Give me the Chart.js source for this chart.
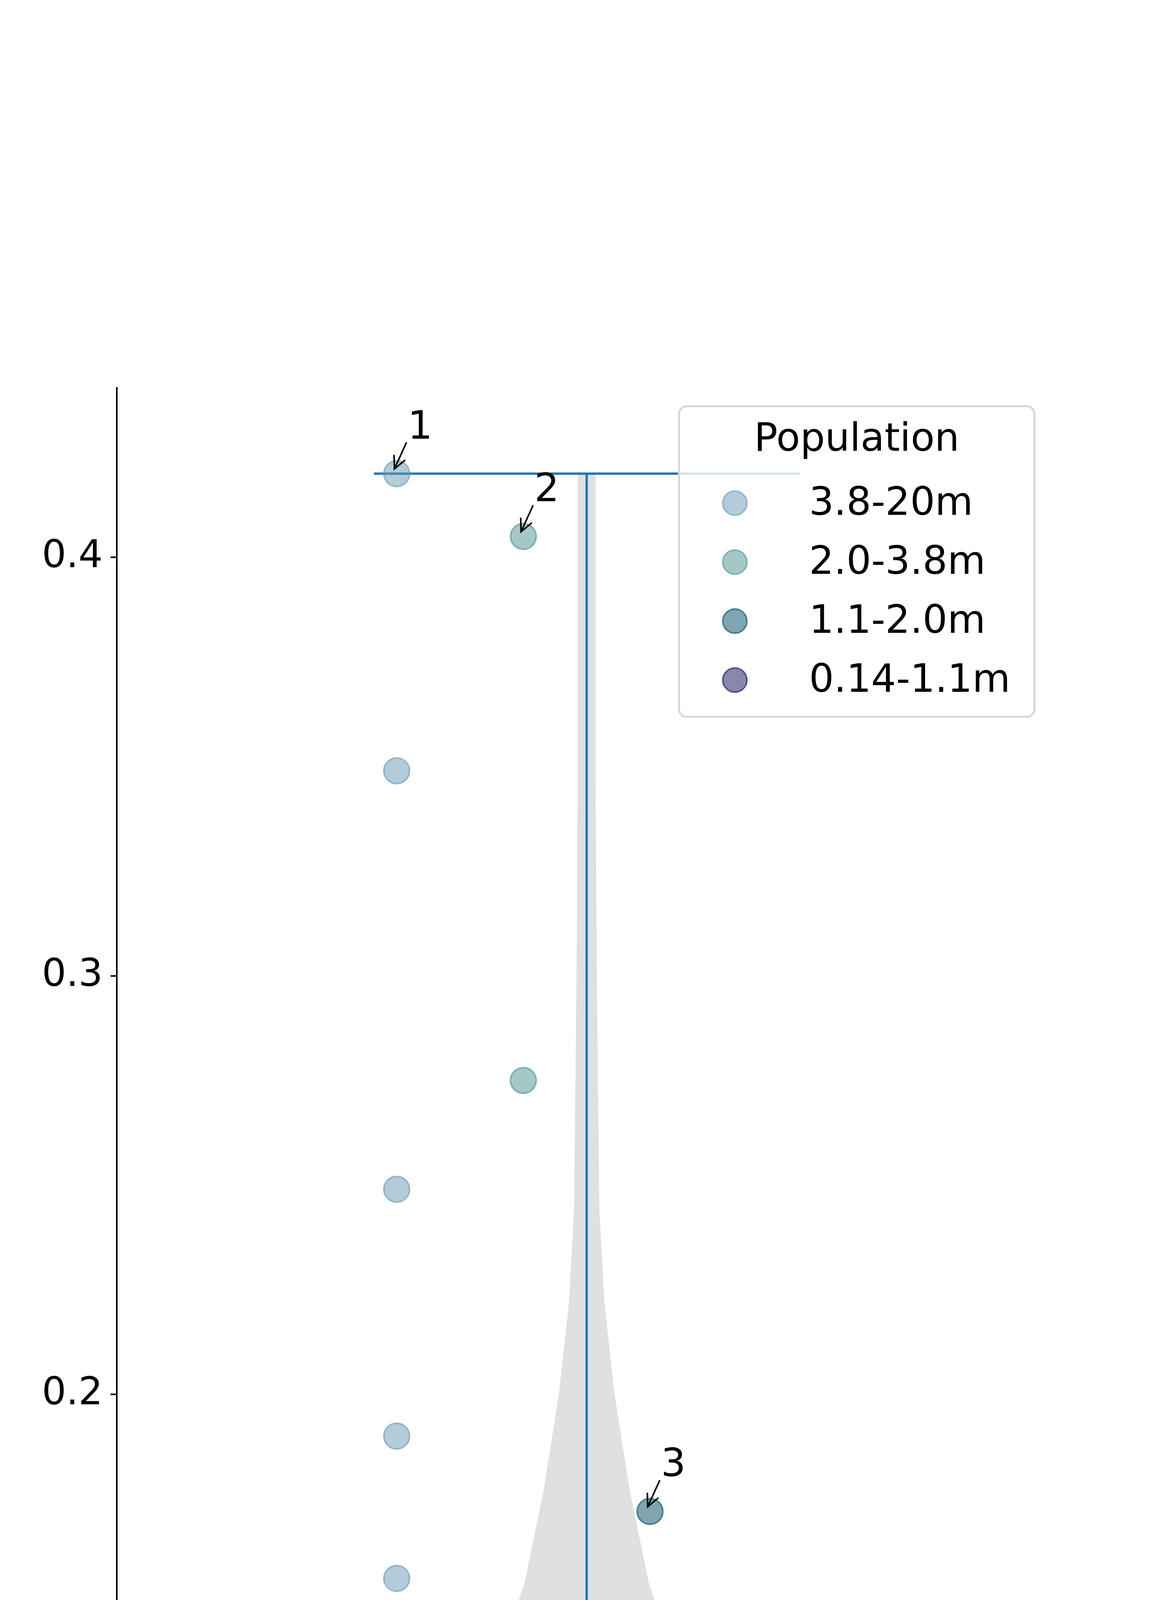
<!DOCTYPE html>
<html>
<head>
<meta charset="utf-8">
<script src="https://cdn.jsdelivr.net/npm/chart.js@4.4.1/dist/chart.umd.min.js"></script>
<style>
  body { margin: 0; background: #fff; }
  #wrap { width: 3000px; height: 6600px; }
</style>
</head>
<body>
<div id="wrap"><canvas id="myChart"></canvas></div>
<script>
const groupNames = ['3.8-20m', '2.0-3.8m', '1.1-2.0m', '0.14-1.1m'];
const groupX = [-1.5, -0.5, 0.5, 1.5];
const groupColors = ['105,152,180', '75,145,143', '0,75,100', '17,17,85'];

const pop1 = [0.42, 0.349, 0.249, 0.190, 0.156, 0.068, 0.0575, 0.0565, 0.056, 0.050, 0.043, 0.038,
    0.033, 0.028, 0.0235, 0.017, 0.0113, 0.0095, 0.0066, 0.004, 0.0027, 0.0015, 0.0008, 0.0];
const pop2 = [0.405, 0.275, 0.147, 0.136, 0.132, 0.109, 0.082, 0.073, 0.067, 0.059, 0.057, 0.054,
    0.0432, 0.043, 0.037, 0.035, 0.033, 0.030, 0.0295, 0.0206, 0.0142, 0.0072, 0.0028, 0.0022];
const pop3 = [0.172, 0.115, 0.089, 0.081, 0.072, 0.062, 0.043, 0.040, 0.027, 0.0225, 0.017, 0.014,
    0.0128, 0.0116, 0.011, 0.0098, 0.0072, 0.0051, 0.003, 0.0027];
const pop4 = [0.135, 0.126, 0.104, 0.082, 0.071, 0.049, 0.035, 0.0283, 0.0278, 0.023, 0.017, 0.0108,
    0.0075, 0.0051, 0.0039, 0.0027, 0.0018, 0.0012];
const groups = [pop1, pop2, pop3, pop4];

// violin outline: half width (in x units) at each y level
const violinY = [0, 0.022, 0.045, 0.067, 0.089, 0.111, 0.133, 0.155, 0.177, 0.2, 0.222, 0.244, 0.3, 0.35, 0.42];
const violinW = [2.94, 3.37, 3.12, 2.39, 1.65, 1.09, 0.73, 0.49, 0.34, 0.22, 0.14, 0.10, 0.08, 0.07, 0.07];
const violinMin = 0, violinMax = 0.42, capHalf = 1.68;

const yTicks = [0, 0.1, 0.2, 0.3, 0.4];
const annotations = [['1', 0, 0], ['2', 1, 0], ['3', 2, 0], ['4', 3, 0]]; // label, group, point index

const FONT = 'DejaVu Sans';

const datasets = groups.map((vals, g) => ({
    label: groupNames[g],
    data: vals.map(v => ({ x: groupX[g], y: v })),
    backgroundColor: 'rgba(' + groupColors[g] + ',0.5)',
    borderColor: 'rgba(' + groupColors[g] + ',0.6)',
    borderWidth: 4,
    pointRadius: 33,
    pointHoverRadius: 33,
}));

const violinPlugin = {
    id: 'violin',
    beforeDatasetsDraw(chart) {
        const c = chart.ctx, xs = chart.scales.x, ys = chart.scales.y;
        c.save();
        c.beginPath();
        for (let i = 0; i < violinY.length; i++) {
            const px = xs.getPixelForValue(violinW[i]), py = ys.getPixelForValue(violinY[i]);
            i ? c.lineTo(px, py) : c.moveTo(px, py);
        }
        for (let i = violinY.length - 1; i >= 0; i--) {
            c.lineTo(xs.getPixelForValue(-violinW[i]), ys.getPixelForValue(violinY[i]));
        }
        c.closePath();
        c.fillStyle = '#e0e0e0';
        c.fill();
        c.strokeStyle = '#1f77b4';
        c.lineWidth = 6;
        const cx = xs.getPixelForValue(0);
        c.beginPath();
        c.moveTo(cx, ys.getPixelForValue(violinMin));
        c.lineTo(cx, ys.getPixelForValue(violinMax));
        [violinMin, violinMax].forEach(v => {
            c.moveTo(xs.getPixelForValue(-capHalf), ys.getPixelForValue(v));
            c.lineTo(xs.getPixelForValue(capHalf), ys.getPixelForValue(v));
        });
        c.stroke();
        c.restore();
    },
    afterDatasetsDraw(chart) {
        const c = chart.ctx, xs = chart.scales.x, ys = chart.scales.y;
        c.save();
        // annotations
        c.font = '100px ' + FONT;
        c.fillStyle = '#000';
        c.strokeStyle = '#000';
        c.lineWidth = 4;
        c.textBaseline = 'alphabetic';
        annotations.forEach(([txt, g, idx]) => {
            const px = xs.getPixelForValue(groupX[g]), py = ys.getPixelForValue(groups[g][idx]);
            c.fillText(txt, px + 28, py - 90);
            const sx = px + 25, sy = py - 80, ex = px - 6, ey = py - 12;
            c.beginPath();
            c.moveTo(sx, sy); c.lineTo(ex, ey);
            const a = Math.atan2(ey - sy, ex - sx), L = 36;
            c.moveTo(ex - L * Math.cos(a - 0.45), ey - L * Math.sin(a - 0.45));
            c.lineTo(ex, ey);
            c.lineTo(ex - L * Math.cos(a + 0.45), ey - L * Math.sin(a + 0.45));
            c.stroke();
        });
        // legend box
        const bx = 1738, by = 1040, bw = 910, bh = 795, r = 20;
        c.beginPath();
        c.roundRect(bx, by, bw, bh, r);
        c.fillStyle = 'rgba(255,255,255,0.8)';
        c.fill();
        c.strokeStyle = '#d6d6d6';
        c.lineWidth = 5;
        c.stroke();
        c.fillStyle = '#000';
        c.textAlign = 'center';
        c.textBaseline = 'middle';
        c.font = '100px ' + FONT;
        c.fillText('Population', bx + bw / 2, 1128);
        c.textAlign = 'left';
        groupNames.forEach((n, g) => {
            const ly = 1288 + g * 151;
            c.beginPath();
            c.arc(1881, ly, 31, 0, Math.PI * 2);
            c.fillStyle = 'rgba(' + groupColors[g] + ',0.5)';
            c.fill();
            c.strokeStyle = 'rgba(' + groupColors[g] + ',0.6)';
            c.lineWidth = 4;
            c.stroke();
            c.fillStyle = '#000';
            c.fillText(n, 2071, ly + 4);
        });
        c.restore();
    }
};

new Chart(document.getElementById('myChart'), {
    type: 'scatter',
    data: { datasets: datasets },
    options: {
        responsive: true,
        maintainAspectRatio: false,
        animation: false,
        devicePixelRatio: 1,
        layout: { padding: { left: 0, top: 993, right: 302, bottom: 361 } },
        plugins: { legend: { display: false }, tooltip: { enabled: false } },
        scales: {
            x: {
                type: 'linear', min: -3.71, max: 3.69,
                afterBuildTicks: s => { s.ticks = [{ value: 0 }]; },
                afterFit: s => { s.height = 300; },
                ticks: { callback: () => '', font: { size: 10 } },
                grid: { drawOnChartArea: false, tickLength: 16, color: '#000', tickWidth: 4 },
                border: { color: '#000', width: 4 },
                title: { display: true, text: 'Pavement Centre Line Coverage', color: '#000',
                    font: { family: FONT, size: 128 }, padding: { top: 0 } },
            },
            y: {
                min: -0.0212, max: 0.4405,
                afterBuildTicks: s => { s.ticks = yTicks.map(v => ({ value: v })); },
                afterFit: s => { s.width = 299; },
                ticks: { color: '#000', font: { family: FONT, size: 98 }, padding: 20,
                    callback: v => v.toFixed(1) },
                grid: { drawOnChartArea: false, tickLength: 16, color: '#000', tickWidth: 4 },
                border: { color: '#000', width: 4 },
            }
        }
    },
    plugins: [violinPlugin]
});
</script>
</body>
</html>
